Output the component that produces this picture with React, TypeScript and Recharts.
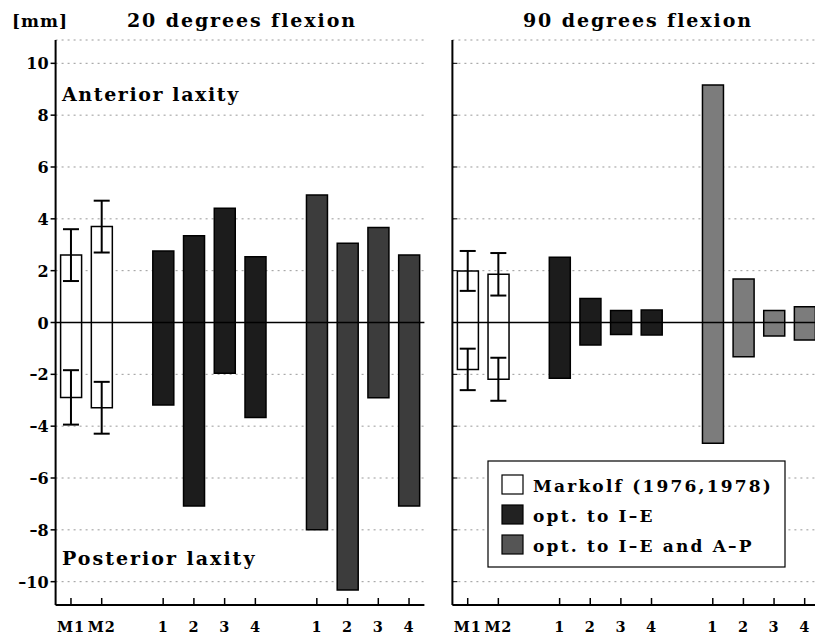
import React from 'react';
import {
  ComposedChart,
  Bar,
  Cell,
  XAxis,
  YAxis,
  CartesianGrid,
  ReferenceLine,
  Scatter,
  ErrorBar,
} from 'recharts';

// ---- data ----
const slots = ['M1', 'M2', 'gapA', '1a', '2a', '3a', '4a', 'gapB', '1b', '2b', '3b', '4b'];
const tickLabels = ['M1', 'M2', '', '1', '2', '3', '4', '', '1', '2', '3', '4'];
const groups = ['markolf', 'markolf', 'gap', 'ie', 'ie', 'ie', 'ie', 'gap', 'ieap', 'ieap', 'ieap', 'ieap'];

const anterior20 = [2.6, 3.7, null, 2.76, 3.35, 4.41, 2.54, null, 4.92, 3.06, 3.67, 2.6];
const posterior20 = [-2.89, -3.29, null, -3.18, -7.08, -1.96, -3.67, null, -8.0, -10.32, -2.9, -7.08];
const errAnterior20 = [1.0, 1.0];
const errPosterior20 = [1.05, 1.0];

const anterior90 = [1.99, 1.86, null, 2.52, 0.93, 0.46, 0.48, null, 9.16, 1.68, 0.46, 0.61];
const posterior90 = [-1.81, -2.19, null, -2.15, -0.87, -0.46, -0.48, null, -4.66, -1.32, -0.52, -0.68];
const errAnterior90 = [0.77, 0.82];
const errPosterior90 = [0.8, 0.83];

const yTicks = [-10, -8, -6, -4, -2, 0, 2, 4, 6, 8, 10];
const yDomain = [-10.9, 10.9];

const legendItems = [
  { key: 'markolf', label: 'Markolf (1976,1978)' },
  { key: 'ie', label: 'opt. to I\u2013E' },
  { key: 'ieap', label: 'opt. to I\u2013E and A\u2013P' },
];

const FONT = '"DejaVu Serif", serif';

function buildRows(ant, post, errA, errP) {
  return slots.map((slot, i) => ({
    slot,
    label: tickLabels[i],
    group: groups[i],
    range: ant[i] == null ? null : [post[i], ant[i]],
    ant: errA[i] != null ? ant[i] : null,
    post: errP[i] != null ? post[i] : null,
    errAnt: errA[i] != null ? errA[i] : 0,
    errPost: errP[i] != null ? errP[i] : 0,
  }));
}

const rows20 = buildRows(anterior20, posterior20, errAnterior20, errPosterior20);
const rows90 = buildRows(anterior90, posterior90, errAnterior90, errPosterior90);

const labelBySlot = {};
slots.forEach((s, i) => (labelBySlot[s] = tickLabels[i]));

const XTick = (props) => {
  const { x, y, payload } = props;
  const label = labelBySlot[payload.value];
  if (!label) return <g />;
  return (
    <g>
      <line x1={x} x2={x} y1={y - 7} y2={y} stroke="#000" strokeWidth={1.5} />
      <text
        x={x}
        y={y + 27}
        textAnchor="middle"
        fontFamily={FONT}
        fontWeight={700}
        fontSize={14.5}
        fill="#000"
        style={{ letterSpacing: '0.8px' }}
      >
        {label}
      </text>
    </g>
  );
};

const YTickLabel = (props) => {
  const { x, y, payload } = props;
  const v = payload.value;
  const txt = v < 0 ? '\u2013' + Math.abs(v) : String(v);
  return (
    <text
      x={x}
      y={y + 6}
      textAnchor="end"
      fontFamily={FONT}
      fontWeight={700}
      fontSize={16}
      fill="#000"
    >
      {txt}
    </text>
  );
};

const YTickInner = (props) => {
  const { x, y } = props;
  return <line x1={x} x2={x + 5} y1={y} y2={y} stroke="#000" strokeWidth={1} />;
};

const Empty = () => <g />;

function Panel({ rows, width, yAxisWidth, marginRight, showLabels, colors }) {
  return (
    <ComposedChart
      width={width}
      height={638}
      data={rows}
      margin={{ top: 40, right: marginRight, bottom: 0, left: 0 }}
      barSize={21}
    >
      <CartesianGrid vertical={false} stroke="#999" strokeDasharray="2 4" />
      <XAxis
        dataKey="slot"
        height={33}
        interval={0}
        tickSize={0}
        tickMargin={0}
        tickLine={false}
        tick={<XTick />}
        axisLine={{ stroke: '#000', strokeWidth: 2 }}
      />
      <XAxis
        xAxisId="top"
        dataKey="slot"
        orientation="top"
        height={0}
        tick={false}
        tickLine={false}
        axisLine={{ stroke: '#000', strokeWidth: 1.5 }}
      />
      {showLabels ? (
        <YAxis
          type="number"
          domain={yDomain}
          ticks={yTicks}
          width={yAxisWidth}
          tickSize={5}
          tickMargin={2}
          tickLine={{ stroke: '#000', strokeWidth: 1.5 }}
          tick={<YTickLabel />}
          axisLine={{ stroke: '#000', strokeWidth: 2 }}
          allowDataOverflow
        />
      ) : (
        <YAxis
          type="number"
          domain={yDomain}
          ticks={yTicks}
          width={yAxisWidth}
          tickSize={0}
          tickMargin={0}
          tickLine={false}
          tick={<YTickInner />}
          axisLine={{ stroke: '#000', strokeWidth: 2 }}
          allowDataOverflow
        />
      )}
      <YAxis
        yAxisId="right"
        orientation="right"
        type="number"
        domain={yDomain}
        ticks={yTicks}
        width={0}
        tick={false}
        tickLine={false}
        axisLine={{ stroke: '#000', strokeWidth: 1.5 }}
      />
      <Bar dataKey="range" isAnimationActive={false} stroke="#000" strokeWidth={1.5}>
        {rows.map((r, i) => (
          <Cell key={i} fill={colors[r.group] || '#fff'} />
        ))}
      </Bar>
      <ReferenceLine y={0} stroke="#000" strokeWidth={1.5} />
      <Scatter dataKey="ant" shape={<Empty />} isAnimationActive={false}>
        <ErrorBar dataKey="errAnt" direction="y" width={8} stroke="#000" strokeWidth={2} />
      </Scatter>
      <Scatter dataKey="post" shape={<Empty />} isAnimationActive={false}>
        <ErrorBar dataKey="errPost" direction="y" width={8} stroke="#000" strokeWidth={2} />
      </Scatter>
    </ComposedChart>
  );
}

const colors20 = { markolf: '#ffffff', ie: '#1c1c1c', ieap: '#3c3c3c' };
const colors90 = { markolf: '#ffffff', ie: '#1c1c1c', ieap: '#7c7c7c' };
const legendColors = { markolf: '#ffffff', ie: '#222222', ieap: '#555555' };

export default function App() {
  return (
    <div
      style={{
        position: 'absolute',
        left: 0,
        top: 0,
        width: 815,
        height: 638,
        overflow: 'hidden',
        background: '#fff',
      }}
    >
      <div style={{ position: 'absolute', left: 0, top: 0 }}>
        <Panel
          rows={rows20}
          width={430}
          yAxisWidth={55.6}
          marginRight={5.6}
          showLabels
          colors={colors20}
        />
      </div>
      <div style={{ position: 'absolute', left: 420, top: 0 }}>
        <Panel
          rows={rows90}
          width={410}
          yAxisWidth={32.4}
          marginRight={10}
          showLabels={false}
          colors={colors90}
        />
      </div>
      <svg
        width={815}
        height={638}
        style={{ position: 'absolute', left: 0, top: 0, pointerEvents: 'none' }}
        fontFamily={FONT}
        fontWeight={700}
        fill="#000"
      >
        <text x={12} y={27} fontSize={17} style={{ letterSpacing: '1px' }}>[mm]</text>
        <text x={127} y={27} fontSize={19} style={{ letterSpacing: '1.9px' }}>20 degrees flexion</text>
        <text x={523} y={27} fontSize={19} style={{ letterSpacing: '1.9px' }}>90 degrees flexion</text>
        <text x={62} y={101} fontSize={19} style={{ letterSpacing: '1.6px' }}>Anterior laxity</text>
        <text x={62} y={565} fontSize={19} style={{ letterSpacing: '2px' }}>Posterior laxity</text>
        <rect x={488} y={461} width={297} height={106} fill="#fff" stroke="#000" strokeWidth={1.2} />
        {legendItems.map((it, i) => (
          <g key={it.key}>
            <rect
              x={502}
              y={475 + i * 30}
              width={21}
              height={19}
              fill={legendColors[it.key]}
              stroke="#000"
              strokeWidth={1.2}
            />
            <text x={533} y={492 + i * 30} fontSize={17} style={{ letterSpacing: '2.2px' }}>
              {it.label}
            </text>
          </g>
        ))}
      </svg>
    </div>
  );
}
